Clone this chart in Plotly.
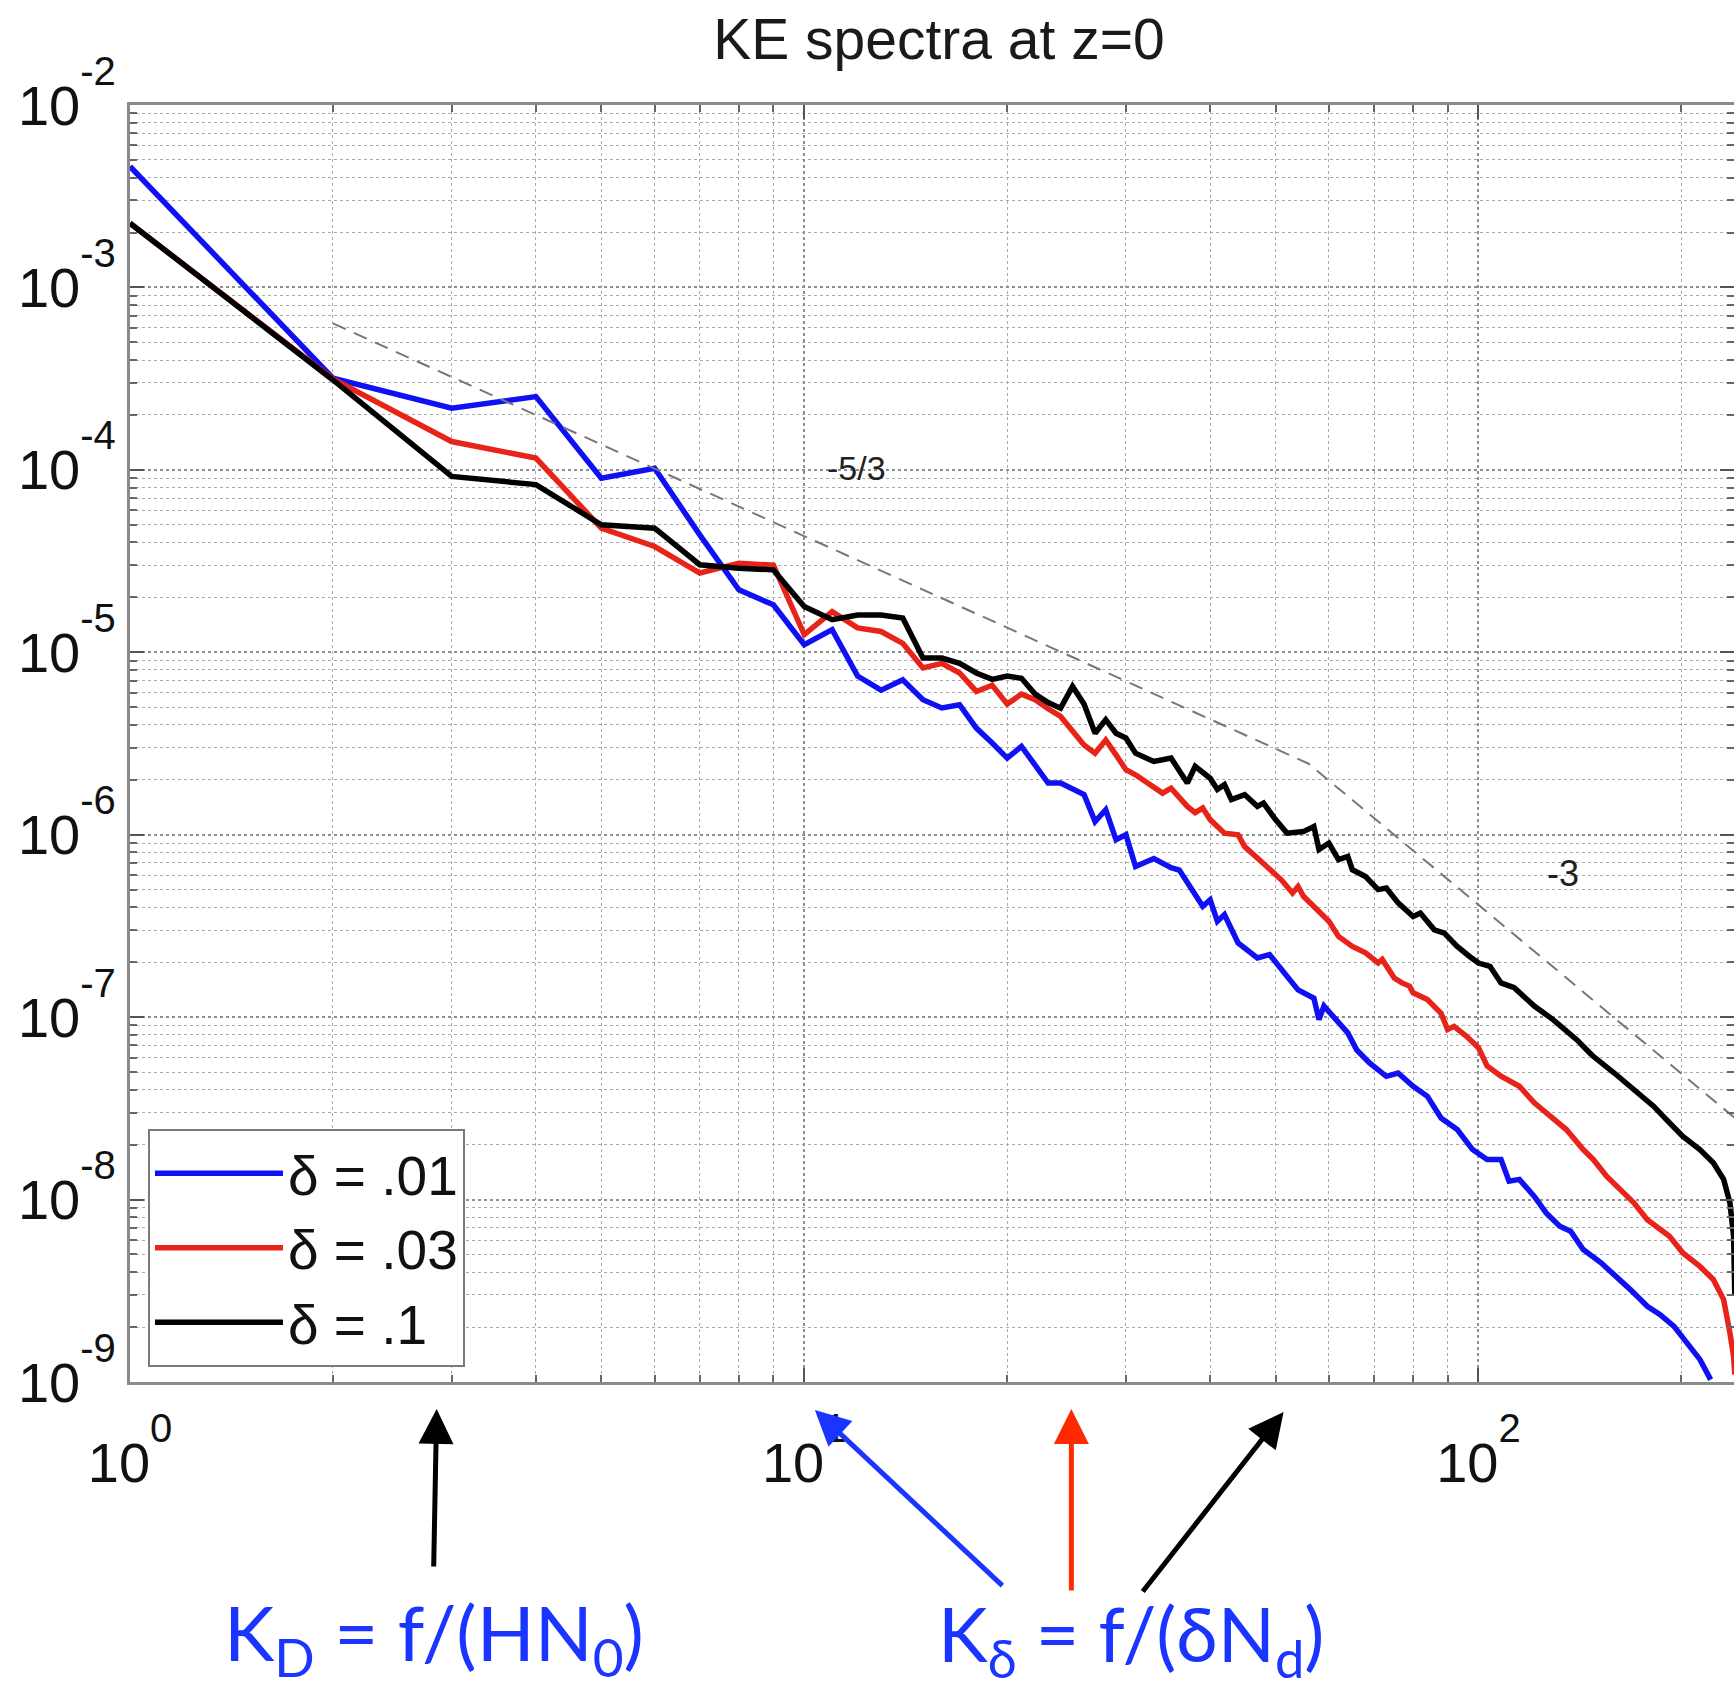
import math
import plotly.graph_objects as go

# ---------------- data ----------------
# wavenumber k and KE spectral density E(k) for each delta
k_d01 = [1, 2, 3, 4, 5, 6, 7, 8, 9, 10, 11, 12, 13, 14, 15, 16, 17, 18, 19, 20,
         21, 22, 23, 24, 25, 26, 27, 28, 29, 30, 31, 33, 35, 36, 39, 40, 41, 42, 44, 47,
         49, 51, 54, 57, 58, 59, 64, 66, 69, 73, 76, 80, 84, 88, 93, 98,
         103, 108, 111, 115, 121, 126, 132, 137, 143, 152,
         162, 168, 178, 186, 195, 204, 213, 221]
E_d01 = [4.6e-3, 3.18e-4, 2.18e-4, 2.52e-4, 9.0e-5, 1.02e-4, 4.4e-5, 2.2e-5, 1.82e-5, 1.1e-5,
         1.33e-5, 7.4e-6, 6.2e-6, 7.07e-6, 5.5e-6, 4.95e-6, 5.15e-6, 3.84e-6, 3.18e-6, 2.63e-6,
         3.05e-6, 2.37e-6, 1.92e-6, 1.92e-6, 1.77e-6, 1.66e-6, 1.18e-6, 1.37e-6, 9.4e-7, 1.0e-6,
         6.7e-7, 7.4e-7, 6.6e-7, 6.4e-7, 4.05e-7, 4.4e-7, 3.35e-7, 3.65e-7, 2.55e-7, 2.11e-7,
         2.2e-7, 1.82e-7, 1.41e-7, 1.27e-7, 9.7e-8, 1.15e-7, 8.2e-8, 6.6e-8, 5.6e-8, 4.74e-8,
         4.94e-8, 4.18e-8, 3.68e-8, 2.8e-8, 2.42e-8, 1.88e-8,
         1.66e-8, 1.66e-8, 1.26e-8, 1.29e-8, 1.04e-8, 8.45e-9, 7.14e-9, 6.7e-9, 5.32e-9, 4.5e-9,
         3.65e-9, 3.21e-9, 2.6e-9, 2.34e-9, 2.02e-9, 1.64e-9, 1.33e-9, 1.03e-9]

k_d03 = [1, 2, 3, 4, 5, 6, 7, 8, 9, 10, 11, 12, 13, 14, 15, 16, 17, 18, 19, 20,
         21, 22, 23, 24, 25, 26, 27, 28, 29, 30, 31, 33, 34, 35, 37, 38, 39, 40, 42, 44,
         45, 47, 49, 51, 53, 54, 55, 57, 60, 62, 65, 68, 71, 72, 75, 77, 79, 80, 84, 88,
         90, 92, 96, 100, 103, 108, 115, 121, 126, 135, 143, 148, 155, 162, 170, 178,
         186, 192, 201, 213, 223, 231, 236, 239, 240]
E_d03 = [2.25e-3, 3.15e-4, 1.43e-4, 1.16e-4, 4.79e-5, 3.8e-5, 2.72e-5, 3.08e-5, 3.0e-5, 1.25e-5,
         1.67e-5, 1.36e-5, 1.3e-5, 1.12e-5, 8.2e-6, 8.7e-6, 7.7e-6, 6.1e-6, 6.6e-6, 5.2e-6,
         5.9e-6, 5.5e-6, 4.9e-6, 4.45e-6, 3.7e-6, 3.1e-6, 2.8e-6, 3.3e-6, 2.74e-6, 2.27e-6,
         2.13e-6, 1.84e-6, 1.69e-6, 1.8e-6, 1.43e-6, 1.32e-6, 1.4e-6, 1.21e-6, 1.02e-6, 1.0e-6,
         8.6e-7, 7.45e-7, 6.43e-7, 5.66e-7, 4.79e-7, 5.2e-7, 4.6e-7, 4.05e-7, 3.35e-7, 2.77e-7,
         2.44e-7, 2.25e-7, 1.98e-7, 2.07e-7, 1.64e-7, 1.54e-7, 1.48e-7, 1.36e-7, 1.25e-7, 1.05e-7,
         8.55e-8, 8.9e-8, 7.85e-8, 6.8e-8, 5.4e-8, 4.74e-8, 4.18e-8, 3.39e-8, 2.99e-8, 2.42e-8,
         1.88e-8, 1.66e-8, 1.34e-8, 1.14e-8, 9.6e-9, 7.76e-9,
         6.85e-9, 6.3e-9, 5.1e-9, 4.3e-9, 3.65e-9, 2.83e-9, 1.86e-9, 1.38e-9, 1.1e-9]

k_d1 = [1, 2, 3, 4, 5, 6, 7, 8, 9, 10, 11, 12, 13, 14, 15, 16, 17, 18, 19, 20,
        21, 22, 23, 24, 25, 26, 27, 28, 29, 30, 31, 33, 35, 37, 38, 40, 41, 42, 43, 45,
        47, 48, 50, 52, 55, 57, 58, 60, 62, 64, 65, 68, 71, 73, 76, 80, 82, 86, 89, 93,
        97, 100, 104, 108, 113, 115, 121, 129, 140, 146, 148, 159, 170, 182, 190, 201,
        213, 223, 231, 236, 239, 240]
E_d1 = [2.25e-3, 3.11e-4, 9.2e-5, 8.3e-5, 5.0e-5, 4.79e-5, 3.02e-5, 2.89e-5, 2.83e-5, 1.78e-5,
        1.51e-5, 1.6e-5, 1.6e-5, 1.54e-5, 9.3e-6, 9.3e-6, 8.7e-6, 7.7e-6, 7.1e-6, 7.4e-6,
        7.2e-6, 5.9e-6, 5.3e-6, 4.94e-6, 6.5e-6, 5.2e-6, 3.6e-6, 4.27e-6, 3.6e-6, 3.39e-6,
        2.8e-6, 2.52e-6, 2.63e-6, 1.92e-6, 2.37e-6, 2.04e-6, 1.77e-6, 1.88e-6, 1.56e-6, 1.66e-6,
        1.43e-6, 1.49e-6, 1.21e-6, 1.02e-6, 1.04e-6, 1.11e-6, 8.3e-7, 9.0e-7, 7.3e-7, 7.6e-7,
        6.43e-7, 5.9e-7, 5.0e-7, 5.1e-7, 4.23e-7, 3.56e-7, 3.72e-7, 3.01e-7, 2.89e-7, 2.44e-7,
        2.15e-7, 1.98e-7, 1.9e-7, 1.54e-7, 1.45e-7, 1.36e-7, 1.15e-7, 9.7e-8, 7.5e-8, 6.4e-8,
        6.1e-8, 4.94e-8, 4.0e-8, 3.24e-8, 2.74e-8, 2.22e-8,
        1.88e-8, 1.59e-8, 1.29e-8, 9.6e-9, 6.3e-9, 3.0e-9]

# dashed reference slopes (-5/3 then -3)
k_ref = [2, 56, 240]
E_ref = [6.35e-4, 2.45e-6, 2.8e-8]

series_names = ["δ = .01", "δ = .03", "δ = .1"]
series_colors = ["#1010f5", "#e8231a", "#000000"]

y_tick_exp = [-2, -3, -4, -5, -6, -7, -8, -9]
x_tick_exp = [0, 1, 2]

# arrow target wavenumbers (K_D and K_delta for each delta)
arrow_k = [2.85, 10.37, 24.9, 51.4]
arrow_colors = ["#000000", "#1a35ff", "#ff2a00", "#000000"]

FONT = "Liberation Sans, Arial, Helvetica, sans-serif"

fig = go.Figure()
for kk, ee, nm, col in zip([k_d01, k_d03, k_d1], [E_d01, E_d03, E_d1], series_names, series_colors):
    fig.add_trace(go.Scatter(x=kk, y=ee, mode="lines", name=nm,
                             line=dict(color=col, width=5.5)))
fig.add_trace(go.Scatter(x=k_ref, y=E_ref, mode="lines", showlegend=False,
                         line=dict(color="#777777", width=2, dash="14px,9px")))

SUP = "10<sup><sup><span style='font-size:40px'>%d</span></sup></sup>"
ytext = [SUP % e for e in y_tick_exp]
xtext = [SUP % e for e in x_tick_exp]

grid_major = dict(showgrid=True, gridcolor="#8f8f8f", gridwidth=1.6, griddash="dot")
minor = dict(dtick="D1", ticks="inside", ticklen=7, tickcolor="#666", tickwidth=1.5,
             showgrid=True, gridcolor="#ababab", gridwidth=1.4, griddash="dot")

fig.update_xaxes(type="log", range=[0, 2.379], tickmode="array",
                 tickvals=[10 ** e for e in x_tick_exp], ticktext=xtext,
                 ticks="inside", ticklen=14, tickwidth=2, tickcolor="#555",
                 showline=True, linecolor="#8a8a8a", linewidth=3, mirror="ticks",
                 tickfont=dict(family=FONT, size=56, color="#111"),
                 ticklabelstandoff=30, automargin=False, minor=minor, zeroline=False,
                 **grid_major)
fig.update_yaxes(type="log", range=[-9, -2], tickmode="array",
                 tickvals=[10.0 ** e for e in y_tick_exp], ticktext=ytext,
                 ticks="inside", ticklen=14, tickwidth=2, tickcolor="#555",
                 showline=True, linecolor="#8a8a8a", linewidth=3, mirror="ticks",
                 tickfont=dict(family=FONT, size=56, color="#111"),
                 automargin=False, minor=minor, zeroline=False,
                 **grid_major)

annotations = [
    dict(x=math.log10(11.97), y=-3.99, xref="x", yref="y", text="-5/3", showarrow=False,
         font=dict(family=FONT, size=34, color="#222")),
    dict(x=math.log10(133.4), y=-6.214, xref="x", yref="y", text="-3", showarrow=False,
         font=dict(family=FONT, size=36, color="#222")),
    dict(x=math.log10(2.82), y=-0.2410, xref="x", yref="paper",
         text="K<sub>D</sub> = f/(HN<sub>0</sub>)", showarrow=False,
         font=dict(family="Lato, " + FONT, size=76, color="#1a35ff")),
    dict(x=math.log10(30.5), y=-0.2420, xref="x", yref="paper",
         text="K<sub>δ</sub> = f/(δN<sub>d</sub>)", showarrow=False,
         font=dict(family="Lato, " + FONT, size=75, color="#1a35ff")),
]
arrow_tail = [(-3, 159), (189, 177), (0, 183), (-142, 181)]
arrow_head_y = [-0.0211, -0.0219, -0.0211, -0.0235]
for kv, col, (ax, ay), hy in zip(arrow_k, arrow_colors, arrow_tail, arrow_head_y):
    annotations.append(dict(x=math.log10(kv), y=hy, xref="x", yref="paper", text="",
                            showarrow=True, arrowhead=2, arrowsize=1.4, arrowwidth=5,
                            arrowcolor=col, ax=ax, ay=ay))

fig.update_layout(
    width=1734, height=1694,
    margin=dict(l=130, r=0, t=105, b=312),
    paper_bgcolor="white", plot_bgcolor="white",
    title=dict(text="KE spectra at z=0", x=0.5415, xref="container", xanchor="center",
               y=1 - 39 / 1694, yref="container", yanchor="middle",
               font=dict(family=FONT, size=57, color="#1a1a1a")),
    legend=dict(x=0.0112, y=0.0117, xanchor="left", yanchor="bottom",
                bgcolor="white", bordercolor="#7a7a7a", borderwidth=2,
                font=dict(family=FONT, size=55, color="#111"),
                itemwidth=128, tracegroupgap=0),
    annotations=annotations,
    showlegend=True,
)

fig.write_html("out.html", config={"displayModeBar": False},
               post_script="document.body.style.margin='0';document.body.style.overflow='hidden';")
